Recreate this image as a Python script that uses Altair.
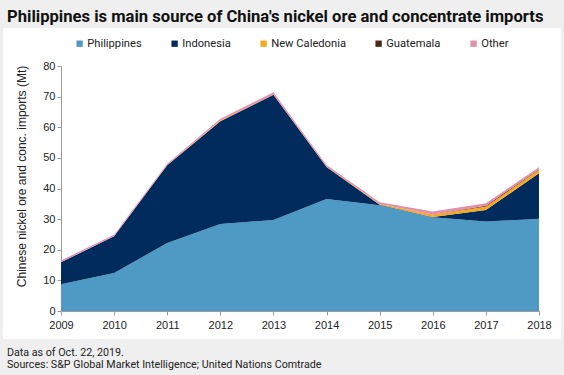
import altair as alt
import pandas as pd

years = [2009, 2010, 2011, 2012, 2013, 2014, 2015, 2016, 2017, 2018]
series_names = ["Philippines", "Indonesia", "New Caledonia", "Guatemala", "Other"]
series_colors = ["#4f9ac4", "#002b5c", "#f7a823", "#4d2617", "#e28fad"]

philippines = [8.7, 12.4, 22.2, 28.4, 29.7, 36.6, 34.5, 30.6, 29.2, 30.1]
indonesia = [7.2, 12.0, 25.4, 33.6, 40.9, 10.4, 0.2, 0.1, 3.8, 14.9]
new_caledonia = [0.0, 0.0, 0.1, 0.2, 0.1, 0.1, 0.2, 0.8, 1.1, 1.1]
guatemala = [0.0, 0.0, 0.0, 0.0, 0.0, 0.0, 0.0, 0.0, 0.3, 0.2]
other = [0.6, 0.5, 0.4, 0.6, 0.7, 0.6, 0.6, 1.0, 0.8, 0.6]

y_ticks = [0, 10, 20, 30, 40, 50, 60, 70, 80]

title_text = "Philippines is main source of China's nickel ore and concentrate imports"
note_lines = ["Data as of Oct. 22, 2019.",
              "Sources: S&P Global Market Intelligence; United Nations Comtrade"]

all_series = [philippines, indonesia, new_caledonia, guatemala, other]
rows = []
for idx, (name, vals) in enumerate(zip(series_names, all_series)):
    for yr, v in zip(years, vals):
        rows.append({"year": yr, "series": name, "value": v, "idx": idx})
df = pd.DataFrame(rows)

W, H = 478, 245
PL, PT = 61, 66
FULL_W, FULL_H = 564, 375
GRAY = "#efefef"

one = pd.DataFrame({"a": [0]})


def band(x0, x1, y0, y1):
    return alt.Chart(one).mark_rect(color=GRAY).encode(
        x=alt.value(x0 - PL), x2=alt.value(x1 - PL),
        y=alt.value(y0 - PT), y2=alt.value(y1 - PT),
    )


bands = [
    band(0, FULL_W, 0, 28),
    band(0, FULL_W, 339, FULL_H),
    band(0, 3, 0, FULL_H),
    band(561, FULL_W, 0, FULL_H),
]

area = alt.Chart(df).mark_area(opacity=1).encode(
    x=alt.X("year:Q",
            scale=alt.Scale(domain=[years[0], years[-1]], nice=False, zero=False),
            axis=alt.Axis(values=years, format="d", title=None, labelFlush=False,
                          labelPadding=4)),
    y=alt.Y("value:Q", stack="zero",
            scale=alt.Scale(domain=[0, 80], nice=False),
            axis=alt.Axis(values=y_ticks, title="Chinese nickel ore and conc. imports (Mt)",
                          titlePadding=14, titleY=110, titleFontSize=12)),
    color=alt.Color("series:N",
                    scale=alt.Scale(domain=series_names, range=series_colors),
                    legend=alt.Legend(orient="none", legendX=13, legendY=-28,
                                      direction="horizontal", title=None,
                                      symbolType="square", symbolSize=40,
                                      symbolStrokeWidth=0, columnPadding=27,
                                      labelFont="Roboto", labelFontSize=11.2,
                                      labelColor="#222222", labelOffset=2,
                                      padding=0)),
    order=alt.Order("idx:Q", sort="ascending"),
)

title = alt.Chart(one).mark_text(
    align="left", baseline="alphabetic", font="Roboto", fontSize=16.6,
    fontWeight="bold", color="#111111",
).encode(x=alt.value(7 - PL), y=alt.value(21.5 - PT), text=alt.value(title_text))

notes = alt.Chart(one).mark_text(
    align="left", baseline="alphabetic", font="Roboto", fontSize=10.7,
    color="#222222", lineHeight=11.5,
).encode(x=alt.value(7 - PL), y=alt.value(356 - PT), text=alt.value(note_lines))

chart = alt.layer(*bands, area, title, notes).properties(
    width=W, height=H,
    background="white",
    padding={"left": PL, "top": PT, "right": FULL_W - PL - W, "bottom": FULL_H - PT - H},
    autosize=alt.AutoSizeParams(type="none"),
).configure_view(stroke=None).configure_axis(
    grid=False, domainColor="#9a9a9a", tickColor="#9a9a9a", tickSize=4,
    labelFont="Liberation Sans", labelFontSize=11, labelColor="#222222",
    titleFont="Liberation Sans", titleFontSize=11, titleColor="#222222",
    titleFontWeight="normal",
)

chart.save("out.html", embed_options={"renderer": "svg", "actions": False})
